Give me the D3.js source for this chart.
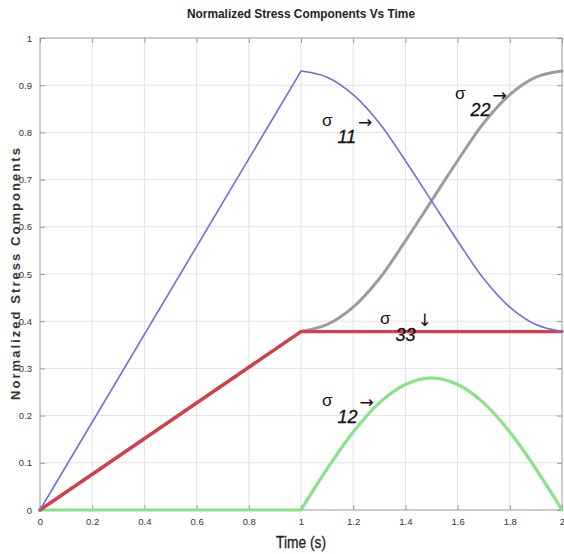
<!DOCTYPE html>
<html>
<head>
<meta charset="UTF-8">
<style>
  body { margin: 0; background: #fff; }
  svg text { font-family: "Liberation Sans", Arial, sans-serif; }
  .axis text { font-size: 9.5px; fill: #333; }
  .grid line { stroke: #e2e2e2; stroke-width: 1; }
  .frame { fill: none; stroke: #9a9a9a; stroke-width: 1; }
  .line { fill: none; stroke-linejoin: round; stroke-linecap: round; }
</style>
<script src="https://d3js.org/d3.v7.min.js"></script>
</head>
<body>
<svg></svg>
<script>
// data
var xTicks = [0, 0.2, 0.4, 0.6, 0.8, 1, 1.2, 1.4, 1.6, 1.8, 2];
var yTicks = [0, 0.1, 0.2, 0.3, 0.4, 0.5, 0.6, 0.7, 0.8, 0.9, 1];

// loading ramp (straight) then unloading / rotation (curved)
var rampTime = [0, 1];
var time     = [1, 1.1, 1.2, 1.3, 1.4, 1.5, 1.6, 1.7, 1.8, 1.9, 2];

var sigma11Ramp = [0, 0.93];
var sigma22Ramp = [0, 0.378];
var sigma33Ramp = [0, 0.378];
var sigma12Ramp = [0, 0];

var sigma11 = [0.93, 0.917, 0.88, 0.82, 0.74, 0.655, 0.57, 0.49, 0.43, 0.393, 0.378];
var sigma22 = [0.378, 0.393, 0.43, 0.49, 0.57, 0.655, 0.74, 0.82, 0.88, 0.917, 0.93];
var sigma33 = [0.378, 0.378, 0.378, 0.378, 0.378, 0.378, 0.378, 0.378, 0.378, 0.378, 0.378];
var sigma12 = [0, 0.087, 0.165, 0.227, 0.266, 0.28, 0.266, 0.227, 0.165, 0.087, 0];

// labels placed in data coordinates
var labels = [
  { sub: '11', arrow: '\u2192', t: 1.080, v: 0.814 },
  { sub: '22', arrow: '\u2192', t: 1.590, v: 0.871 },
  { sub: '33', arrow: '\u2193', t: 1.303, v: 0.394 },
  { sub: '12', arrow: '\u2192', t: 1.080, v: 0.220 }
];

var W = 564, H = 554;
var margin = { top: 38, right: 2, bottom: 44, left: 40 };
var width = W - margin.left - margin.right,
    height = H - margin.top - margin.bottom;

var svg = d3.select('svg').attr('width', W).attr('height', H);
var g = svg.append('g').attr('transform', 'translate(' + margin.left + ',' + margin.top + ')');

var x = d3.scaleLinear().domain([0, 2]).range([0, width]);
var y = d3.scaleLinear().domain([0, 1]).range([height, 0]);

// grid
g.append('g').attr('class', 'grid')
  .selectAll('line').data(xTicks.slice(1, -1)).enter().append('line')
  .attr('x1', function(d) { return x(d); }).attr('x2', function(d) { return x(d); })
  .attr('y1', 0).attr('y2', height);
g.append('g').attr('class', 'grid')
  .selectAll('line').data(yTicks.slice(1, -1)).enter().append('line')
  .attr('y1', function(d) { return y(d); }).attr('y2', function(d) { return y(d); })
  .attr('x1', 0).attr('x2', width);

// axes (MATLAB style: ticks pointing in, box all round)
var fmt = function(d) { return d === 0 ? '0' : d3.format('~g')(d); };
function tidy(a) {
  a.select('.domain').remove();
  a.selectAll('line').attr('stroke', '#9a9a9a');
}
g.append('g').attr('class', 'axis')
  .attr('transform', 'translate(0,' + height + ')')
  .call(d3.axisBottom(x).tickValues(xTicks).tickFormat(fmt).tickSizeInner(-5).tickSizeOuter(0).tickPadding(8))
  .call(tidy);
g.append('g').attr('class', 'axis')
  .call(d3.axisLeft(y).tickValues(yTicks).tickFormat(fmt).tickSizeInner(-5).tickSizeOuter(0).tickPadding(8))
  .call(tidy);
g.append('g')
  .attr('transform', 'translate(' + width + ',0)')
  .call(d3.axisRight(y).tickValues(yTicks).tickFormat('').tickSizeInner(-5).tickSizeOuter(0))
  .call(tidy);
g.append('g')
  .call(d3.axisTop(x).tickValues(xTicks).tickFormat('').tickSizeInner(-5).tickSizeOuter(0))
  .call(tidy);

g.append('rect').attr('class', 'frame').attr('x', 0).attr('y', 0).attr('width', width).attr('height', height);

// lines
var straight = d3.line()
  .x(function(d) { return x(d[0]); })
  .y(function(d) { return y(d[1]); });
var smooth = d3.line()
  .curve(d3.curveCatmullRom)
  .x(function(d) { return x(d[0]); })
  .y(function(d) { return y(d[1]); });

var series = [
  { ramp: sigma12Ramp, values: sigma12, color: '#86e386', w: 3.2 },
  { ramp: sigma22Ramp, values: sigma22, color: '#9c9c9c', w: 3 },
  { ramp: sigma33Ramp, values: sigma33, color: '#d3404c', w: 3.4 },
  { ramp: sigma11Ramp, values: sigma11, color: '#6e6ee0', w: 1.6 }
];
series.forEach(function(s) {
  var d = straight(rampTime.map(function(t, i) { return [t, s.ramp[i]]; })) +
          smooth(time.map(function(t, i) { return [t, s.values[i]]; })).replace(/^M/, 'L');
  g.append('path').attr('class', 'line')
    .attr('d', d)
    .attr('stroke', s.color)
    .attr('stroke-width', s.w);
});

// annotations
labels.forEach(function(l) {
  var t = g.append('text')
    .attr('x', x(l.t)).attr('y', y(l.v))
    .style('font-size', '17px').attr('fill', '#111');
  t.append('tspan').text('\u03c3');
  t.append('tspan').attr('dy', 17).attr('dx', 5)
    .style('font-style', 'italic').style('font-size', '18px')
    .style('stroke', '#111').style('stroke-width', 0.3)
    .text(l.sub);
  t.append('tspan').attr('dy', -15).attr('dx', 2)
    .style('font-family', '"DejaVu Sans", sans-serif').style('font-size', '17px')
    .text(l.arrow);
});

// title and axis labels
svg.append('text')
  .attr('x', margin.left + width / 2).attr('y', 18)
  .attr('text-anchor', 'middle')
  .attr('textLength', 228).attr('lengthAdjust', 'spacingAndGlyphs')
  .style('font-size', '13px').style('font-weight', 'bold').attr('fill', '#222')
  .text('Normalized Stress Components Vs Time');

svg.append('text')
  .attr('x', margin.left + width / 2).attr('y', H - 6)
  .attr('text-anchor', 'middle')
  .attr('textLength', 50).attr('lengthAdjust', 'spacingAndGlyphs')
  .style('font-size', '16px').attr('fill', '#222').style('stroke', '#222').style('stroke-width', 0.3)
  .text('Time (s)');

svg.append('text')
  .attr('transform', 'translate(20,' + (margin.top + height / 2) + ') rotate(-90)')
  .attr('text-anchor', 'middle')
  .attr('textLength', 252).attr('lengthAdjust', 'spacing')
  .style('font-size', '13px').style('font-weight', 'bold')
  .attr('fill', '#333')
  .text('Normalized Stress Components');
</script>
</body>
</html>
